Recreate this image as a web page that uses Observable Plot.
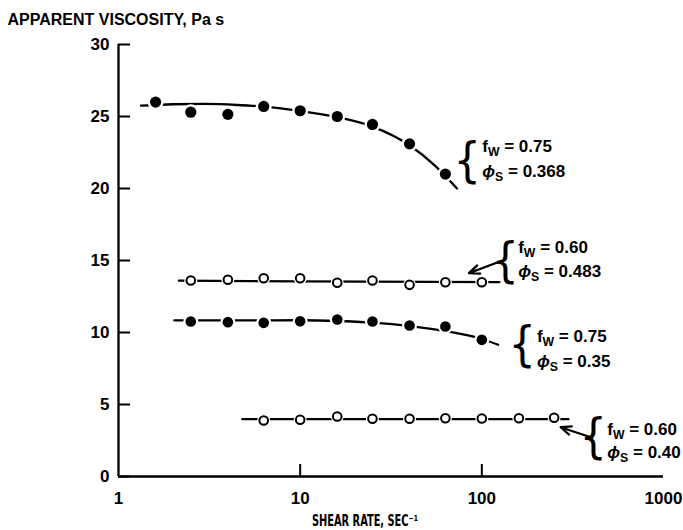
<!DOCTYPE html>
<html>
<head>
<meta charset="utf-8">
<script src="https://cdn.jsdelivr.net/npm/d3@7"></script>
<script src="https://cdn.jsdelivr.net/npm/@observablehq/plot@0.6"></script>
<style>
  html, body { margin: 0; padding: 0; background: #fff; }
  #chart svg { display: block; }
</style>
</head>
<body>
<div id="chart"></div>
<script>
// ---- data ----
const xTicks = [1, 10, 100, 1000];
const xInnerTicks = [10, 100];
const yTicks = [0, 5, 10, 15, 20, 25, 30];

const yTitle = "APPARENT VISCOSITY, Pa s";
const xTitle = "SHEAR RATE, SEC⁻¹";

// fw = 0.75, phi_s = 0.368 (filled)
const rateS1 = [1.6, 2.5, 4, 6.3, 10, 16, 25, 40, 63];
const viscS1 = [26.0, 25.3, 25.15, 25.7, 25.4, 25.0, 24.45, 23.1, 21.0];
const fitRateS1 = [1.33, 2, 3, 4.5, 6.3, 10, 16, 25, 40, 55, 73];
const fitViscS1 = [25.75, 25.85, 25.87, 25.8, 25.68, 25.38, 24.95, 24.3, 23.0, 21.6, 20.0];

// fw = 0.60, phi_s = 0.483 (open)
const rateS2 = [2.5, 4, 6.3, 10, 16, 25, 40, 63, 100];
const viscS2 = [13.61, 13.66, 13.77, 13.77, 13.45, 13.61, 13.31, 13.49, 13.49];
const fitRateS2 = [2.15, 10, 125];
const fitViscS2 = [13.6, 13.55, 13.5];

// fw = 0.75, phi_s = 0.35 (filled)
const rateS3 = [2.5, 4, 6.3, 10, 16, 25, 40, 63, 100];
const viscS3 = [10.76, 10.72, 10.67, 10.78, 10.9, 10.76, 10.49, 10.42, 9.49];
const fitRateS3 = [2.03, 5, 10, 16, 25, 40, 63, 100, 123];
const fitViscS3 = [10.84, 10.84, 10.85, 10.8, 10.68, 10.45, 10.1, 9.55, 9.15];

// fw = 0.60, phi_s = 0.40 (open)
const rateS4 = [6.3, 10, 16, 25, 40, 63, 100, 160, 250];
const viscS4 = [3.89, 3.94, 4.17, 4.01, 4.01, 4.05, 4.03, 4.05, 4.08];
const fitRateS4 = [4.8, 300];
const fitViscS4 = [3.98, 3.98];

// annotation labels
const labelFw = ["f_W = 0.75", "f_W = 0.60", "f_W = 0.75", "f_W = 0.60"];
const labelPhi = ["ϕ_S = 0.368", "ϕ_S = 0.483", "ϕ_S = 0.35", "ϕ_S = 0.40"];
const labelX = [100.5, 158.5, 201, 490];
const labelYFw = [22.9, 15.92, 9.72, 3.23];
const labelYPhi = [21.18, 14.2, 7.99, 1.65];
const braceX = [83, 134.5, 167, 410];
const braceY = [21.9, 14.9, 9.1, 2.7];

// arrows (tail -> tip)
const arrowX1 = [126.9, 405.5];
const arrowY1 = [14.95, 2.69];
const arrowX2 = [84.9, 271.6];
const arrowY2 = [14.12, 3.42];

// ---- build tables ----
const zip = (xs, ys) => xs.map((x, i) => ({x, y: ys[i]}));
const s1 = zip(rateS1, viscS1), s2 = zip(rateS2, viscS2), s3 = zip(rateS3, viscS3), s4 = zip(rateS4, viscS4);
const f1 = zip(fitRateS1, fitViscS1), f2 = zip(fitRateS2, fitViscS2), f3 = zip(fitRateS3, fitViscS3), f4 = zip(fitRateS4, fitViscS4);
const labels = labelFw.map((t, i) => ({t1: t, t2: labelPhi[i], x: labelX[i], y1: labelYFw[i], y2: labelYPhi[i], bx: braceX[i], by: braceY[i]}));
const arrows = arrowX1.map((x1, i) => ({x1, y1: arrowY1[i], x2: arrowX2[i], y2: arrowY2[i]}));

const FONT = "'Liberation Sans', Arial, Helvetica, sans-serif";
const NARROW = "'Liberation Sans Narrow', 'DejaVu Sans Condensed', 'Liberation Sans', sans-serif";
const lineStyle = {x: "x", y: "y", stroke: "black", strokeWidth: 2.3, curve: "monotone-x"};

const svg = Plot.plot({
  width: 683,
  height: 530,
  marginLeft: 118,
  marginRight: 20,
  marginTop: 44,
  marginBottom: 54,
  style: {fontFamily: FONT, background: "white", color: "black"},
  x: {type: "log", domain: [1, 1000]},
  y: {domain: [0, 30]},
  marks: [
    // axes
    Plot.ruleX([1], {strokeWidth: 2.3}),
    Plot.ruleY([0], {strokeWidth: 2.3}),
    Plot.axisY(yTicks, {tickSize: -12, tickPadding: 21, strokeWidth: 2, fontSize: 17, fontWeight: "bold", label: null, tickFormat: d => String(d)}),
    Plot.axisX(xTicks, {tickSize: 0, tickPadding: 15, fontSize: 17, fontWeight: "bold", label: null, tickFormat: d => String(d)}),
    Plot.axisX(xInnerTicks, {tickSize: -12, strokeWidth: 2, fill: "none", label: null}),

    // fitted lines
    Plot.line(f1, lineStyle),
    Plot.line(f2, lineStyle),
    Plot.line(f3, lineStyle),
    Plot.line(f4, lineStyle),

    // white halos that break the lines around each marker
    Plot.dot(s1, {x: "x", y: "y", r: 8, fill: "white"}),
    Plot.dot(s2, {x: "x", y: "y", r: 6.5, fill: "white"}),
    Plot.dot(s3, {x: "x", y: "y", r: 7.5, fill: "white"}),
    Plot.dot(s4, {x: "x", y: "y", r: 6.5, fill: "white"}),

    // markers
    Plot.dot(s1, {x: "x", y: "y", r: 5.6, fill: "black"}),
    Plot.dot(s2, {x: "x", y: "y", r: 4.3, fill: "white", stroke: "black", strokeWidth: 2}),
    Plot.dot(s3, {x: "x", y: "y", r: 5.3, fill: "black"}),
    Plot.dot(s4, {x: "x", y: "y", r: 4.3, fill: "white", stroke: "black", strokeWidth: 2}),

    // arrows
    Plot.arrow(arrows, {x1: "x1", y1: "y1", x2: "x2", y2: "y2", stroke: "black", strokeWidth: 2.3, headLength: 11, headAngle: 45}),

    // annotations
    Plot.text(labels, {x: "bx", y: "by", text: () => "{", fontSize: 48, fontWeight: "normal", fontFamily: NARROW, textAnchor: "middle", lineAnchor: "middle"}),
    Plot.text(labels, {x: "x", y: "y1", text: "t1", fontSize: 17, fontWeight: "bold", textAnchor: "start", lineAnchor: "middle"}),
    Plot.text(labels, {x: "x", y: "y2", text: "t2", fontSize: 17, fontWeight: "bold", textAnchor: "start", lineAnchor: "middle"}),

    // titles
    Plot.text([yTitle], {text: d => d, frameAnchor: "top-left", dx: -111, dy: -25, fontSize: 16, fontWeight: "bold", textAnchor: "start", lineAnchor: "middle"}),
    Plot.text([xTitle], {text: d => d, frameAnchor: "bottom", dx: -26, dy: 45, fontSize: 15, fontWeight: "bold", fontFamily: NARROW, textAnchor: "middle", lineAnchor: "middle"})
  ]
});

// subscripts as real tspans; fit the x title to the reference width
d3.select(svg).selectAll("text").each(function() {
  if (this.querySelector("tspan")) return;
  const t = this.textContent;
  const el = d3.select(this);
  const m = t.match(/^(.*)_(.)(.*)$/);
  if (m) {
    el.text(null);
    const a = el.append("tspan").text(m[1]);
    if (m[1] === "ϕ") a.attr("font-style", "italic");
    el.append("tspan").attr("dy", 4).attr("font-size", "0.72em").text(m[2]);
    el.append("tspan").attr("dy", -4).text(m[3]);
  } else if (t === xTitle) {
    el.attr("textLength", 106).attr("lengthAdjust", "spacingAndGlyphs");
  }
});

document.getElementById("chart").appendChild(svg);
</script>
</body>
</html>
